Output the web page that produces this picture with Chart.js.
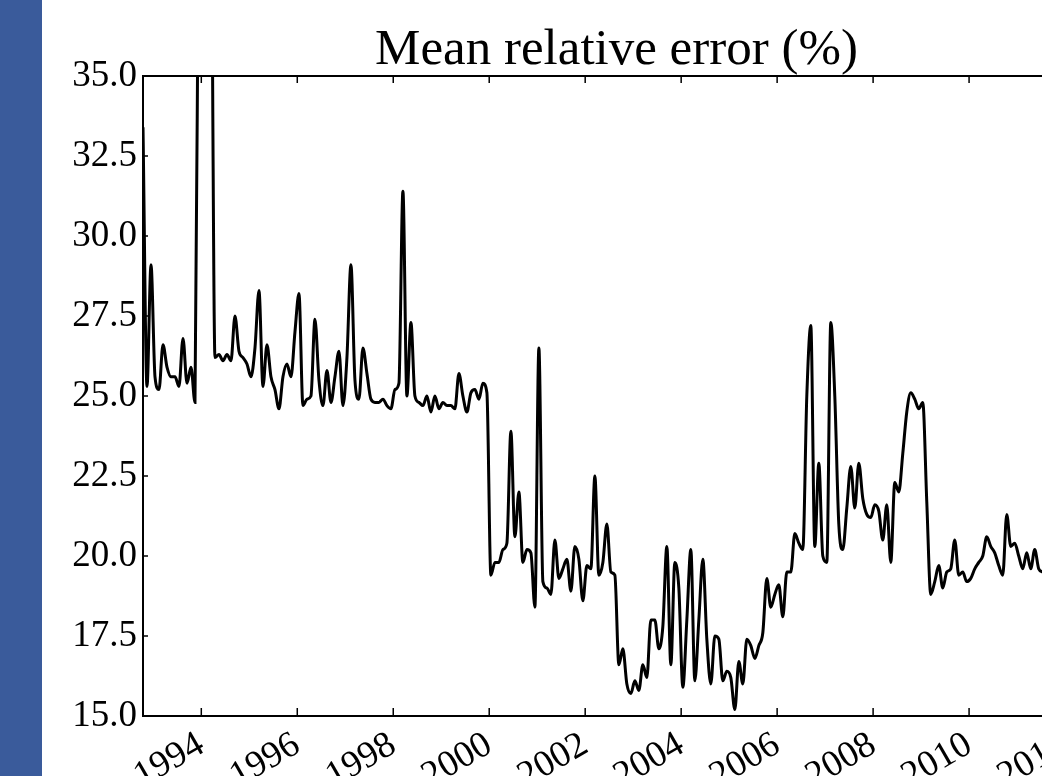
<!DOCTYPE html>
<html>
<head>
<meta charset="utf-8">
<script src="https://cdn.jsdelivr.net/npm/chart.js@4.4.1/dist/chart.umd.min.js"></script>
<style>
    html, body { margin: 0; padding: 0; background: #ffffff; overflow: hidden; }
    #band { position: absolute; left: 0; top: 0; width: 42px; height: 776px; background: #3a5b9b; z-index: 2; }
    #wrap { position: absolute; left: 0; top: 0; width: 1140px; height: 776px; }
</style>
</head>
<body>
<div id="band"></div>
<div id="wrap"><canvas id="errChart"></canvas></div>
<script>
// monthly mean relative error (%), first sample mid-October 1992
const firstMonth = 1992.785;
const errorPct = [
    33.4, 25.3, 29.1, 25.6, 25.2, 26.6, 25.9, 25.6, 25.6, 25.3,
    26.8, 25.4, 25.9, 24.8, 42.0, 45.0, 45.0, 42.0, 26.2, 26.3,
    26.1, 26.3, 26.1, 27.5, 26.4, 26.2, 26.0, 25.6, 26.5, 28.3,
    25.3, 26.6, 25.6, 25.2, 24.6, 25.6, 26.0, 25.6, 27.0, 28.2,
    24.7, 24.9, 25.0, 27.4, 25.5, 24.7, 25.8, 24.8, 25.6, 26.4,
    24.7, 26.2, 29.1, 25.5, 24.9, 26.5, 25.7, 24.9, 24.8, 24.8,
    24.9, 24.7, 24.6, 25.2, 25.4, 31.4, 25.0, 27.3, 25.0, 24.8,
    24.7, 25.0, 24.5, 25.0, 24.6, 24.8, 24.7, 24.7, 24.6, 25.7,
    25.0, 24.5, 25.1, 25.2, 24.9, 25.4, 25.1, 19.4, 19.8, 19.8,
    20.2, 20.4, 23.9, 20.6, 22.0, 19.8, 20.2, 20.1, 18.4, 26.5,
    19.2, 19.0, 18.8, 20.5, 19.3, 19.6, 19.9, 18.9, 20.3, 19.9,
    18.6, 19.7, 19.6, 22.5, 19.4, 19.8, 21.0, 19.5, 19.4, 16.6,
    17.1, 16.0, 15.7, 16.1, 15.8, 16.6, 16.2, 18.0, 18.0, 17.1,
    17.8, 20.3, 16.6, 19.8, 19.0, 15.9, 18.0, 20.2, 16.1, 18.0,
    19.9, 17.4, 16.0, 17.5, 17.4, 16.1, 16.4, 16.2, 15.2, 16.7,
    16.0, 17.4, 17.2, 16.8, 17.2, 17.6, 19.3, 18.4, 18.8, 19.1,
    18.1, 19.5, 19.5, 20.7, 20.4, 20.2, 25.0, 27.2, 20.3, 22.9,
    20.0, 19.8, 27.3, 25.0, 21.0, 20.2, 21.5, 22.8, 21.5, 22.9,
    21.8, 21.3, 21.2, 21.6, 21.4, 20.5, 21.6, 19.8, 22.3, 22.0,
    23.2, 24.5, 25.1, 24.9, 24.6, 24.8, 21.7, 18.8, 19.2, 19.7,
    19.0, 19.5, 19.6, 20.5, 19.4, 19.5, 19.2, 19.3, 19.6, 19.8,
    20.0, 20.6, 20.3, 20.1, 19.7, 19.4, 21.3, 20.3, 20.4, 20.0,
    19.6, 20.1, 19.6, 20.2, 19.6, 19.5
];
const yearTicks = [1994, 1996, 1998, 2000, 2002, 2004, 2006, 2008, 2010, 2012];
const errorTicks = [15.0, 17.5, 20.0, 22.5, 25.0, 27.5, 30.0, 32.5, 35.0];

const serif = '"Liberation Serif", "Times New Roman", serif';

// matplotlib-style frame with ticks pointing inward
const frameTicks = {
    id: 'frameTicks',
    afterDraw(chart) {
        const ctx = chart.ctx;
        const area = chart.chartArea;
        const xs = chart.scales.x;
        const ys = chart.scales.y;
        ctx.save();
        ctx.strokeStyle = '#000000';
        ctx.lineWidth = 2;
        ctx.strokeRect(area.left, area.top, area.right - area.left, area.bottom - area.top);
        ctx.lineWidth = 1.5;
        ctx.beginPath();
        yearTicks.forEach(yr => {
            const px = xs.getPixelForValue(yr);
            ctx.moveTo(px, area.bottom);
            ctx.lineTo(px, area.bottom - 8);
            ctx.moveTo(px, area.top);
            ctx.lineTo(px, area.top + 7);
        });
        errorTicks.forEach(v => {
            const py = ys.getPixelForValue(v);
            ctx.moveTo(area.left, py);
            ctx.lineTo(area.left + 5, py);
        });
        ctx.stroke();
        ctx.restore();
    }
};

const ctx = document.getElementById('errChart').getContext('2d');
new Chart(ctx, {
    type: 'line',
    data: {
        datasets: [{
            label: 'Mean relative error (%)',
            data: errorPct.map((v, i) => ({ x: firstMonth + i / 12, y: v })),
            borderColor: '#000000',
            borderWidth: 3,
            pointRadius: 0,
            cubicInterpolationMode: 'monotone',
            fill: false
        }]
    },
    options: {
        responsive: true,
        maintainAspectRatio: false,
        animation: false,
        layout: {
            padding: { top: 25, right: 50, left: 0, bottom: 0 }
        },
        plugins: {
            legend: { display: false },
            tooltip: { enabled: false },
            title: {
                display: true,
                text: 'Mean relative error (%)',
                fullSize: false,
                color: '#000000',
                font: { family: serif, size: 51, weight: 'normal', lineHeight: 1.0 },
                padding: { top: 0, bottom: 0 }
            }
        },
        scales: {
            x: {
                type: 'linear',
                position: 'bottom',
                min: firstMonth,
                max: 2012.52,
                grid: { display: false, drawTicks: false },
                border: { display: false },
                afterBuildTicks: scale => {
                    scale.ticks = yearTicks.map(v => ({ value: v }));
                },
                afterFit: scale => { scale.height = 60; },
                ticks: {
                    autoSkip: false,
                    minRotation: 30,
                    maxRotation: 30,
                    padding: 7,
                    color: '#000000',
                    font: { family: serif, size: 37 },
                    callback: v => String(v)
                }
            },
            y: {
                min: 15,
                max: 35,
                grid: { display: false, drawTicks: false },
                border: { display: false },
                afterBuildTicks: scale => {
                    scale.ticks = errorTicks.map(v => ({ value: v }));
                },
                afterFit: scale => { scale.width = 143; },
                ticks: {
                    padding: 6,
                    color: '#000000',
                    font: { family: serif, size: 37 },
                    callback: v => Number(v).toFixed(1)
                }
            }
        }
    },
    plugins: [frameTicks]
});
</script>
</body>
</html>
